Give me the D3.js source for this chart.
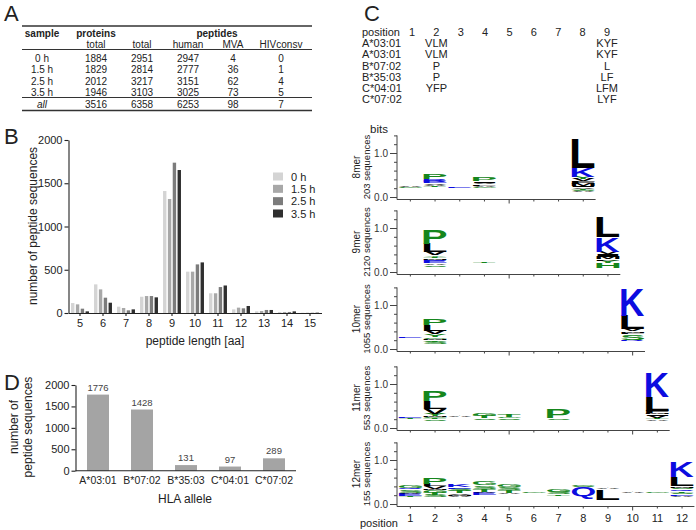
<!DOCTYPE html>
<html><head><meta charset="utf-8">
<script src="https://cdn.jsdelivr.net/npm/d3@7"></script>
<style>
body{margin:0;background:#fff}
svg text{font-family:"Liberation Sans",Arial,Helvetica,sans-serif}
</style>
</head><body>
<svg id="c" width="696" height="530"></svg>
<script>
// ---------- DATA ----------
// Panel A table
const tableSamples = ["0 h", "1.5 h", "2.5 h", "3.5 h", "all"];
const tableProteins = [1884, 1829, 2012, 1946, 3516];
const tablePepTotal = [2951, 2814, 3217, 3103, 6358];
const tableHuman = [2947, 2777, 3151, 3025, 6253];
const tableMVA = [4, 36, 62, 73, 98];
const tableHIV = [0, 1, 4, 5, 7];

// Panel B
const lengths = [5, 6, 7, 8, 9, 10, 11, 12, 13, 14, 15];
const timepoints = ["0 h", "1.5 h", "2.5 h", "3.5 h"];
const counts0h = [115, 331, 73, 188, 1410, 478, 228, 42, 19, 12, 3];
const counts15h = [100, 273, 58, 196, 1318, 478, 228, 62, 23, 12, 3];
const counts25h = [50, 177, 31, 196, 1738, 562, 300, 54, 35, 12, 3];
const counts35h = [19, 119, 42, 181, 1653, 585, 318, 81, 35, 19, 4];

// Panel D
const alleles = ["A*03:01", "B*07:02", "B*35:03", "C*04:01", "C*07:02"];
const alleleCounts = [1776, 1428, 131, 97, 289];

// Panel C motif table
const motifPositions = [1, 2, 3, 4, 5, 6, 7, 8, 9];
const motifAlleles = ["A*03:01", "A*03:01", "B*07:02", "B*35:03", "C*04:01", "C*07:02"];
const motifP2 = ["VLM", "VLM", "P", "P", "YFP", ""];
const motifP9 = ["KYF", "KYF", "L", "LF", "LFM", "LYF"];

// Panel C logos: [position, base (bits), [[letter, bits], ...] bottom -> top]
const logoNames = ["8mer", "9mer", "10mer", "11mer", "12mer"];
const logoSeqs = [203, 2120, 1055, 553, 155];
const logoLengths = [8, 9, 10, 11, 12];
const logo8 = [
  [1, 0.21, [["G", 0.015], ["A", 0.02]]],
  [2, 0.23, [["T", 0.02], ["A", 0.03], ["V", 0.03], ["E", 0.04], ["R", 0.05], ["P", 0.11]]],
  [3, 0.21, [["E", 0.015]]],
  [4, 0.21, [["G", 0.02], ["A", 0.03], ["L", 0.03], ["V", 0.03], ["I", 0.04], ["P", 0.08]]],
  [8, 0.12, [["A", 0.02], ["S", 0.02], ["T", 0.03], ["V", 0.03], ["I", 0.03], ["M", 0.05], ["F", 0.06], ["V", 0.04], ["Y", 0.05], ["K", 0.21], ["L", 0.67]]]
];
const logo9 = [
  [2, 0.12, [["S", 0.04], ["A", 0.04], ["E", 0.05], ["Q", 0.03], ["M", 0.03], ["T", 0.04], ["Y", 0.03], ["V", 0.07], ["L", 0.19], ["P", 0.32]]],
  [4, 0.2, [["T", 0.015]]],
  [9, 0.08, [["H", 0.12], ["Y", 0.06], ["F", 0.04], ["M", 0.05], ["I", 0.05], ["V", 0.06], ["K", 0.33], ["L", 0.46]]]
];
const logo10 = [
  [1, 0.25, [["E", 0.015]]],
  [2, 0.11, [["S", 0.05], ["T", 0.04], ["M", 0.03], ["G", 0.04], ["Y", 0.06], ["V", 0.09], ["L", 0.13], ["P", 0.15]]],
  [10, 0.18, [["R", 0.03], ["S", 0.12], ["F", 0.04], ["M", 0.04], ["V", 0.04], ["L", 0.31], ["K", 0.62]]]
];
const logo11 = [
  [1, 0.21, [["T", 0.015], ["E", 0.02]]],
  [2, 0.17, [["S", 0.03], ["T", 0.03], ["G", 0.02], ["M", 0.03], ["Y", 0.04], ["V", 0.12], ["L", 0.17], ["P", 0.22]]],
  [3, 0.25, [["A", 0.015]]],
  [4, 0.18, [["S", 0.04], ["T", 0.05], ["G", 0.05]]],
  [5, 0.18, [["S", 0.04], ["G", 0.04], ["T", 0.05]]],
  [7, 0.19, [["S", 0.03], ["P", 0.20]]],
  [11, 0.17, [["A", 0.03], ["T", 0.03], ["V", 0.04], ["I", 0.04], ["M", 0.03], ["F", 0.05], ["L", 0.32], ["K", 0.55]]]
];
const logo12 = [
  [1, 0.15, [["T", 0.04], ["E", 0.04], ["A", 0.03], ["S", 0.07], ["Q", 0.03], ["G", 0.06]]],
  [2, 0.16, [["S", 0.05], ["T", 0.05], ["G", 0.05], ["M", 0.03], ["V", 0.06], ["L", 0.05], ["P", 0.13]]],
  [3, 0.15, [["A", 0.03], ["M", 0.03], ["V", 0.03], ["T", 0.05], ["S", 0.06], ["E", 0.03], ["K", 0.05]]],
  [4, 0.2, [["E", 0.05], ["A", 0.03], ["T", 0.07], ["S", 0.07], ["G", 0.09]]],
  [5, 0.22, [["A", 0.03], ["T", 0.06], ["S", 0.07], ["G", 0.07]]],
  [6, 0.25, [["G", 0.015]]],
  [7, 0.18, [["T", 0.04], ["S", 0.06], ["G", 0.06]]],
  [8, 0.11, [["Q", 0.28], ["S", 0.03], ["G", 0.03]]],
  [9, 0.1, [["L", 0.23], ["A", 0.015]]],
  [10, 0.25, [["A", 0.015]]],
  [11, 0.26, [["G", 0.015]]],
  [12, 0.16, [["A", 0.03], ["E", 0.03], ["S", 0.04], ["T", 0.04], ["Q", 0.03], ["S", 0.04], ["M", 0.04], ["L", 0.20], ["K", 0.36]]]
];
const logoData = [logo8, logo9, logo10, logo11, logo12];

// ---------- DRAWING ----------
const svg = d3.select("#c");
const ink = "#222";
const intFmt = d3.format("d");

// panel letters
const panelLetters = [["A", 4, 21], ["B", 4, 144], ["C", 364, 21], ["D", 4, 390]];
svg.selectAll("text.pl").data(panelLetters).join("text").attr("class", "pl")
  .attr("x", d => d[1]).attr("y", d => d[2]).attr("font-size", 22).attr("fill", ink).text(d => d[0]);

// ===== Panel A =====
{
  const g = svg.append("g");
  const colX = d3.scaleOrdinal().domain(["sample", "prot", "tot", "hum", "mva", "hiv"]).range([42, 96, 142, 188, 233, 281]);
  const fs = 10;
  const hdr = [["sample", "sample"], ["prot", "proteins"]];
  hdr.forEach(h => g.append("text").attr("x", colX(h[0])).attr("y", 37).attr("text-anchor", "middle")
    .attr("font-size", fs).attr("font-weight", "bold").attr("fill", ink).text(h[1]));
  g.append("text").attr("x", 217).attr("y", 37).attr("text-anchor", "middle").attr("font-size", fs)
    .attr("font-weight", "bold").attr("fill", ink).text("peptides");
  [["prot", "total"], ["tot", "total"], ["hum", "human"], ["mva", "MVA"], ["hiv", "HIVconsv"]].forEach(h =>
    g.append("text").attr("x", colX(h[0])).attr("y", 47.5).attr("text-anchor", "middle").attr("font-size", fs).attr("fill", ink).text(h[1]));
  const rowY = d3.scalePoint().domain(d3.range(5)).range([61.5, 108]);
  const cols = [["sample", tableSamples], ["prot", tableProteins], ["tot", tablePepTotal], ["hum", tableHuman], ["mva", tableMVA], ["hiv", tableHIV]];
  cols.forEach(([k, arr]) => {
    g.selectAll(null).data(arr).join("text")
      .attr("x", colX(k)).attr("y", (d, i) => rowY(i)).attr("text-anchor", "middle")
      .attr("font-size", fs).attr("fill", ink)
      .attr("font-style", (d, i) => (k === "sample" && i === 4) ? "italic" : null)
      .text(d => d);
  });
  const lines = [[26, 1.6], [49.5, 1], [97.5, 1], [110.5, 1.6]];
  g.selectAll("line").data(lines).join("line").attr("x1", 22).attr("x2", 312)
    .attr("y1", d => d[0]).attr("y2", d => d[0]).attr("stroke", "#333").attr("stroke-width", d => d[1]);
}

// ===== Panel B =====
{
  const g = svg.append("g");
  const series = [counts0h, counts15h, counts25h, counts35h];
  const colors = ["#d4d4d4", "#a8a8a8", "#7c7c7c", "#2f2f2f"];
  const x = d3.scaleBand().domain(lengths).range([68.5, 321.5]).paddingInner(0.22).paddingOuter(0.11);
  const x1 = d3.scaleBand().domain(timepoints).range([0, x.bandwidth()]).paddingInner(0.3);
  const y = d3.scaleLinear().domain([0, 2000]).range([313, 140]);
  series.forEach((s, si) => {
    g.selectAll(null).data(s).join("rect")
      .attr("x", (d, i) => x(lengths[i]) + x1(timepoints[si]))
      .attr("width", x1.bandwidth())
      .attr("y", d => y(d)).attr("height", d => y(0) - y(d))
      .attr("fill", colors[si]);
  });
  const ya = g.append("g").attr("transform", "translate(68.5,0)")
    .call(d3.axisLeft(y).tickValues([0, 500, 1000, 1500, 2000]).tickFormat(intFmt).tickSize(4).tickSizeOuter(0).tickPadding(2));
  const xa = g.append("g").attr("transform", "translate(0,313)")
    .call(d3.axisBottom(x).tickSize(3).tickSizeOuter(0).tickPadding(3));
  [ya, xa].forEach(a => {
    a.selectAll("text").attr("font-size", 11).attr("fill", ink).style("font-family", "Liberation Sans, Arial");
    a.selectAll("path,line").attr("stroke", "#222").attr("stroke-width", 1.1);
  });
  g.append("text").attr("x", 195).attr("y", 345).attr("text-anchor", "middle").attr("font-size", 12).attr("fill", ink).text("peptide length [aa]");
  g.append("text").attr("transform", "translate(37,226) rotate(-90)").attr("text-anchor", "middle").attr("font-size", 12).attr("fill", ink).text("number of peptide sequences");
  const ly = d3.scalePoint().domain(timepoints).range([176.5, 213.5]);
  g.selectAll("rect.lg").data(timepoints).join("rect").attr("class", "lg")
    .attr("x", 273).attr("y", d => ly(d) - 4).attr("width", 10).attr("height", 8)
    .attr("fill", (d, i) => colors[i]);
  g.selectAll("text.lg").data(timepoints).join("text").attr("class", "lg")
    .attr("x", 291).attr("y", d => ly(d) + 4).attr("font-size", 11).attr("fill", ink).text(d => d);
}

// ===== Panel D =====
{
  const g = svg.append("g");
  const x = d3.scaleBand().domain(alleles).range([76, 296]).paddingInner(0.5).paddingOuter(0.25);
  const y = d3.scaleLinear().domain([0, 2000]).range([470.7, 385]);
  g.selectAll("rect").data(alleleCounts).join("rect")
    .attr("x", (d, i) => x(alleles[i])).attr("width", x.bandwidth())
    .attr("y", d => y(d)).attr("height", d => y(0) - y(d)).attr("fill", "#a4a4a4");
  g.selectAll("text.v").data(alleleCounts).join("text").attr("class", "v")
    .attr("x", (d, i) => x(alleles[i]) + x.bandwidth() / 2).attr("y", d => y(d) - 4)
    .attr("text-anchor", "middle").attr("font-size", 9.5).attr("fill", "#444").text(d => d);
  const ya = g.append("g").attr("transform", "translate(75.5,0)")
    .call(d3.axisLeft(y).tickValues([0, 500, 1000, 1500, 2000]).tickFormat(intFmt).tickSize(4).tickSizeOuter(0).tickPadding(2));
  const xa = g.append("g").attr("transform", "translate(0,470.7)")
    .call(d3.axisBottom(x).tickSize(0).tickSizeOuter(0).tickPadding(6));
  [ya, xa].forEach(a => {
    a.selectAll("text").attr("font-size", 11).attr("fill", ink).style("font-family", "Liberation Sans, Arial");
    a.selectAll("path,line").attr("stroke", "#222").attr("stroke-width", 1.1);
  });
  xa.selectAll("text").attr("font-size", 10.5);
  xa.select("path.domain").attr("d", "M75.5,0H296");
  g.append("text").attr("x", 185).attr("y", 503).attr("text-anchor", "middle").attr("font-size", 12).attr("fill", ink).text("HLA allele");
  const yl = g.append("text").attr("transform", "translate(21,427) rotate(-90)").attr("text-anchor", "middle").attr("font-size", 12).attr("fill", ink);
  yl.append("tspan").attr("x", 0).attr("dy", "-0.25em").text("number of");
  yl.append("tspan").attr("x", 0).attr("dy", "1.15em").text("peptide sequences");
}

// ===== Panel C: motif table =====
{
  const g = svg.append("g");
  const px = d3.scalePoint().domain(motifPositions).range([412, 607]);
  const ry = d3.scalePoint().domain(d3.range(7)).range([36, 103]);
  const fs = 11;
  g.append("text").attr("x", 362).attr("y", ry(0)).attr("font-size", fs).attr("fill", ink).text("position");
  g.selectAll("text.pn").data(motifPositions).join("text").attr("class", "pn")
    .attr("x", d => px(d)).attr("y", ry(0)).attr("text-anchor", "middle").attr("font-size", fs).attr("fill", ink).text(d => d);
  g.selectAll("text.al").data(motifAlleles).join("text").attr("class", "al")
    .attr("x", 362).attr("y", (d, i) => ry(i + 1)).attr("font-size", fs).attr("fill", ink).text(d => d);
  g.selectAll("text.p2").data(motifP2).join("text").attr("class", "p2")
    .attr("x", px(2)).attr("y", (d, i) => ry(i + 1)).attr("text-anchor", "middle").attr("font-size", fs).attr("fill", ink).text(d => d);
  g.selectAll("text.p9").data(motifP9).join("text").attr("class", "p9")
    .attr("x", px(9)).attr("y", (d, i) => ry(i + 1)).attr("text-anchor", "middle").attr("font-size", fs).attr("fill", ink).text(d => d);
  g.append("text").attr("x", 370).attr("y", 133).attr("font-size", 11.5).attr("fill", ink).text("bits");
}

// ===== Panel C: logos =====
{
  const letterColor = ch => "PSGTHYCN".includes(ch) ? "#15861c" : ("KRQED".includes(ch) ? "#0c0ce0" : "#000");
  const ctx = document.createElement("canvas").getContext("2d");
  ctx.font = "bold 100px 'Liberation Sans'";
  const mcache = {};
  const metric = ch => {
    if (!mcache[ch]) {
      const m = ctx.measureText(ch);
      mcache[ch] = { x0: -m.actualBoundingBoxLeft, x1: m.actualBoundingBoxRight, asc: m.actualBoundingBoxAscent, desc: m.actualBoundingBoxDescent };
    }
    return mcache[ch];
  };
  const y0s = [197, 272, 349, 428, 504];
  const bitPx = 44;
  const xStart = 398, step = 24.7;
  logoData.forEach((stacks, pi) => {
    const g = svg.append("g");
    const len = logoLengths[pi];
    const y0 = y0s[pi];
    const x = d3.scaleBand().domain(d3.range(1, len + 1)).range([xStart, xStart + len * step]);
    const y = d3.scaleLinear().domain([0, 1.4]).range([y0, y0 - 1.4 * bitPx]);
    // letters
    stacks.forEach(([pos, base, letters]) => {
      let cum = base;
      letters.forEach(([ch, h]) => {
        const yb = y(cum), yt = y(cum + h);
        cum += h;
        const m = metric(ch);
        const w = x.bandwidth() - 1.6;
        const sx = w / (m.x1 - m.x0);
        const sy = (yb - yt) / (m.asc + m.desc);
        const tx = x(pos) + 0.8 - m.x0 * sx;
        const ty = yt + m.asc * sy;
        g.append("text").attr("x", 0).attr("y", 0).attr("font-size", 100).attr("font-weight", "bold")
          .style("font-family", "'Liberation Sans'")
          .attr("fill", letterColor(ch))
          .attr("transform", `translate(${tx},${ty}) scale(${sx},${sy})`).text(ch);
      });
    });
    // y axis
    const isMajor = d => Math.abs(d) < 1e-9 || Math.abs(d - 1) < 1e-9;
    const ya = g.append("g").attr("transform", `translate(${xStart - 1},0)`)
      .call(d3.axisLeft(y).tickValues([0, 0.2, 0.4, 0.6, 0.8, 1.0, 1.2, 1.4]).tickSize(3).tickSizeOuter(0)
        .tickFormat(d => isMajor(d) ? d3.format(".1f")(d) : ""));
    ya.selectAll(".tick").filter(isMajor).select("line").attr("x2", -7);
    ya.select("path.domain").attr("d", `M0,${y(1.4)}V${y0 + 2.5}`);
    ya.selectAll("text").attr("font-size", 10).attr("fill", "#333").attr("x", -9).style("font-family", "Liberation Sans, Arial");
    // x axis
    const xa = g.append("g").attr("transform", `translate(0,${y0 + 2.5})`)
      .call(d3.axisBottom(x).tickSize(2).tickSizeOuter(0).tickFormat(pi === 4 ? (d => d) : () => ""));
    xa.select("path.domain").attr("d", `M${xStart - 1},0H${xStart + len * step}`);
    xa.selectAll(".tick").filter(d => d % 5 === 0).select("line").attr("y2", 4);
    xa.selectAll("text").attr("font-size", 11).attr("fill", ink).attr("y", 8).style("font-family", "Liberation Sans, Arial");
    [ya, xa].forEach(a => a.selectAll("path,line").attr("stroke", "#444").attr("stroke-width", 1));
    // side labels
    const cy = y0 - 30;
    g.append("text").attr("transform", `translate(360,${cy}) rotate(-90)`).attr("text-anchor", "middle")
      .attr("font-size", 10).attr("fill", ink).text(logoNames[pi]);
    g.append("text").attr("transform", `translate(369.5,${cy}) rotate(-90)`).attr("text-anchor", "middle")
      .attr("font-size", 9.5).attr("fill", ink).text(logoSeqs[pi] + " sequences");
  });
  svg.append("text").attr("x", 360).attr("y", 527).attr("font-size", 11).attr("fill", ink).text("position");
}
</script>
</body></html>
